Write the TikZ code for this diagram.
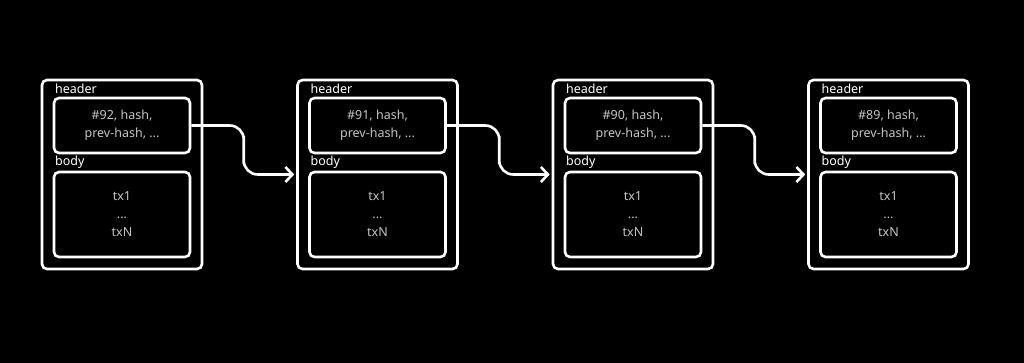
\documentclass[tikz,border=0pt]{standalone}
\usepackage{fontspec}
\setmainfont{Noto Sans}
\usetikzlibrary{arrows.meta,calc}
\definecolor{chainbg}{RGB}{0,0,0}
\definecolor{chaintext}{RGB}{196,196,196}

\begin{document}
\begin{tikzpicture}[x=1pt,y=-1pt,
    blockbox/.style={draw=white, line width=2.6pt, rounded corners=5pt,
      minimum width=160pt, minimum height=189pt, inner sep=0pt},
    partbox/.style={draw=white, line width=2.6pt, rounded corners=5pt,
      minimum width=136pt, inner sep=0pt, align=center, text=chaintext,
      font=\fontsize{12.5}{18}\selectfont},
    partlabel/.style={anchor=base west, inner sep=0pt, text=white,
      font=\fontsize{12.5}{15}\selectfont},
    link/.style={draw=white, line width=2.6pt, rounded corners=14pt,
      shorten >=2pt, -{Straight Barb[length=7pt,width=15pt]}}]
    \fill[chainbg] (0,0) rectangle (1024,363);
    \useasboundingbox (0,0) rectangle (1024,363);

    % blocks, newest first
    \foreach \i/\n in {0/92,1/91,2/90,3/89} {
        \pgfmathsetmacro{\bx}{42+255.5*\i}
        \node[blockbox] (blk\n) at (\bx+80,174.5) {};
        \node[partlabel] (hdrlbl\n) at (\bx+13,94) {header};
        \node[partbox, minimum height=55pt] (hdr\n) at (\bx+80,125.5)
            {\#\n, hash,\\prev-hash, ...};
        \node[partlabel] (bodylbl\n) at (\bx+13,165.5) {body};
        \node[partbox, minimum height=85pt] (body\n) at (\bx+80,214.5)
            {tx1\\...\\txN};
    }

    % prev-hash links
    \foreach \a/\b in {92/91,91/90,90/89}
        \draw[link] (hdr\a.east) -| ($(hdr\a.east)!0.5!(blk\b.west)$) |- (blk\b.west);
\end{tikzpicture}
\end{document}
